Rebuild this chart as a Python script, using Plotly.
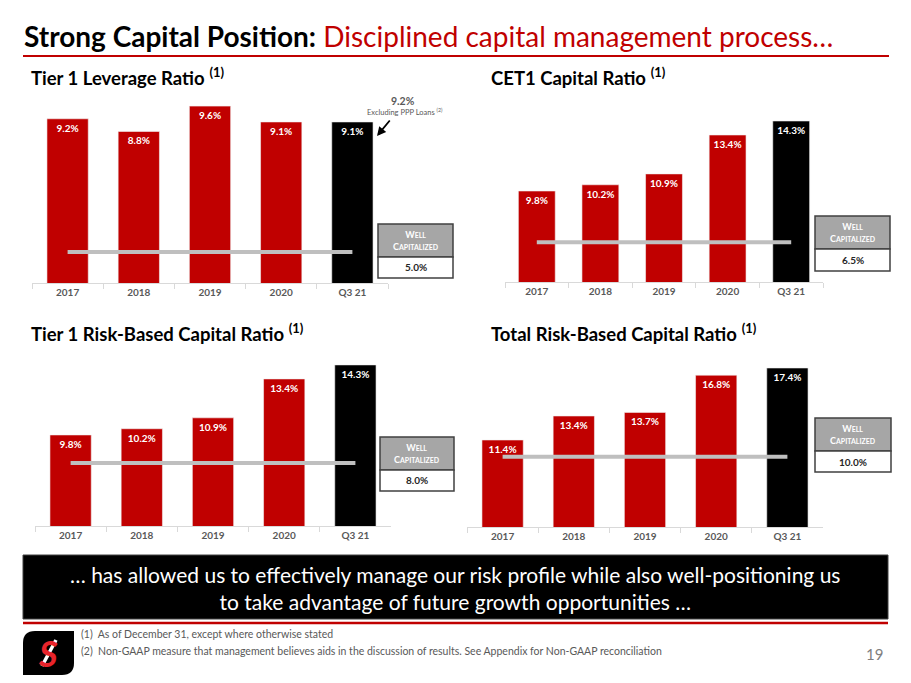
import plotly.graph_objects as go

# Data
periods = ['2017', '2018', '2019', '2020', 'Q3 21']

leverage = [9.2, 8.8, 9.6, 9.1, 9.1]
cet1 = [9.8, 10.2, 10.9, 13.4, 14.3]
tier1_rbc = [9.8, 10.2, 10.9, 13.4, 14.3]
total_rbc = [11.4, 13.4, 13.7, 16.8, 17.4]

well_capitalized = [5.0, 6.5, 8.0, 10.0]
leverage_ex_ppp = 9.2

panel_titles = [
    'Tier 1 Leverage Ratio',
    'CET1 Capital Ratio',
    'Tier 1 Risk-Based Capital Ratio',
    'Total Risk-Based Capital Ratio',
]

# page body has an 8px margin, so the figure is sized/offset to fit the window
OFF = 8
W, H = 911 - OFF, 683 - OFF
FONT = 'Lato'
RED = '#C00000'
GREY_TXT = '#595959'


def fx(x):
    return (x - OFF) / W


def fy(y):
    return 1 - (y - OFF) / H


def note(x, y, text, size, color, xanchor='center', yanchor='middle', **kw):
    return dict(x=fx(x), y=fy(y), xref='paper', yref='paper', text=text,
                showarrow=False, xanchor=xanchor, yanchor=yanchor,
                font=dict(family=FONT, size=size, color=color, **kw))


# Panel geometry in slide pixels:
# axis x-extent, plot top/bottom, y-range, box (x0, x1, top, mid, bottom), title pos
panels = [
    dict(vals=leverage, ax=(32, 388), py=(95, 283), yr=(4.02, 9.95),
         box=(378, 453, 224, 257, 278), title=(29, 76)),
    dict(vals=cet1, ax=(505, 823), py=(95, 282), yr=(3.95, 15.97),
         box=(815, 890, 216, 249, 271), title=(489, 76)),
    dict(vals=tier1_rbc, ax=(35, 391), py=(340, 526), yr=(3.95, 15.9),
         box=(380, 454, 437, 470, 491), title=(29, 332)),
    dict(vals=total_rbc, ax=(467, 823), py=(340, 527), yr=(4.15, 19.73),
         box=(815, 891, 418, 451, 472), title=(489, 332)),
]

fig = go.Figure()
shapes = []
annotations = []

for i, p in enumerate(panels):
    n = i + 1
    xa = 'x' if n == 1 else f'x{n}'
    ya = 'y' if n == 1 else f'y{n}'
    colors = [RED] * (len(periods) - 1) + ['#000000']

    fig.add_trace(go.Bar(
        x=periods, y=p['vals'], xaxis=xa, yaxis=ya,
        marker=dict(color=colors, line=dict(color='#F2F2F2', width=0.6)),
        text=[f'{v:.1f}%' for v in p['vals']],
        textposition='inside', insidetextanchor='end',
        textfont=dict(family=FONT, size=10, color='white', weight='bold'),
        hoverinfo='skip'
    ))

    wc = well_capitalized[i]
    fig.add_trace(go.Scatter(
        x=[periods[0], periods[-1]], y=[wc, wc], xaxis=xa, yaxis=ya,
        mode='lines', line=dict(color='#BFBFBF', width=4),
        hoverinfo='skip'
    ))

    fig.update_layout({
        ('xaxis' if n == 1 else f'xaxis{n}'): dict(
            domain=[fx(p['ax'][0]), fx(p['ax'][1])],
            anchor=ya, showline=True, linecolor='#D9D9D9', linewidth=1,
            ticks='outside', tickson='boundaries', ticklen=5,
            tickcolor='#D9D9D9', showgrid=False, fixedrange=True,
            tickfont=dict(family=FONT, size=10, color=GREY_TXT, weight='bold'),
        ),
        ('yaxis' if n == 1 else f'yaxis{n}'): dict(
            domain=[fy(p['py'][1]), fy(p['py'][0])],
            anchor=xa, range=list(p['yr']), visible=False, fixedrange=True,
        ),
    })

    # Well capitalized box
    bx0, bx1, bt, bm, bb = p['box']
    shapes.append(dict(type='rect', xref='paper', yref='paper',
                       x0=fx(bx0), x1=fx(bx1), y0=fy(bm), y1=fy(bt),
                       fillcolor='#A6A6A6', line=dict(color='#404040', width=1.5)))
    shapes.append(dict(type='rect', xref='paper', yref='paper',
                       x0=fx(bx0), x1=fx(bx1), y0=fy(bb), y1=fy(bm),
                       fillcolor='white', line=dict(color='#404040', width=1.5)))
    annotations.append(note(
        (bx0 + bx1) / 2, (bt + bm) / 2,
        "W<span style='font-size:7px'>ELL</span><br>"
        "C<span style='font-size:7px'>APITALIZED</span>",
        9, 'white', weight='bold'))
    annotations.append(note((bx0 + bx1) / 2, (bm + bb) / 2, f'{wc:.1f}%',
                            10, '#262626', weight='bold'))

    # Panel title
    tx, ty = p['title']
    annotations.append(note(tx, ty, f'<b>{panel_titles[i]}</b> <b><sup>(1)</sup></b>',
                            18.5, '#000000', xanchor='left'))

# Excluding PPP note on leverage panel
annotations.append(note(403, 101, f'{leverage_ex_ppp:.1f}%', 10.5, GREY_TXT, weight='bold'))
annotations.append(note(405, 112, 'Excluding PPP Loans <sup>(2)</sup>', 7.5, GREY_TXT))
annotations.append(dict(
    x=fx(377), y=fy(136), xref='paper', yref='paper', text='',
    showarrow=True, arrowhead=2, arrowsize=1, arrowwidth=1.8,
    arrowcolor='#000000', ax=14, ay=-17))

# Slide title
annotations.append(note(
    22, 36,
    "<b>Strong Capital Position:</b> "
    f"<span style='color:{RED}'>Disciplined capital management process…</span>",
    28, '#000000', xanchor='left'))
shapes.append(dict(type='line', xref='paper', yref='paper',
                   x0=fx(23), x1=fx(889), y0=fy(56), y1=fy(56),
                   line=dict(color=RED, width=2)))

# Bottom banner
shapes.append(dict(type='rect', xref='paper', yref='paper',
                   x0=fx(23), x1=fx(888), y0=fy(619), y1=fy(555),
                   fillcolor='#000000', line=dict(color='#404040', width=1)))
shapes.append(dict(type='line', xref='paper', yref='paper',
                   x0=fx(23), x1=fx(888), y0=fy(623), y1=fy(623),
                   line=dict(color=RED, width=2.5)))
annotations.append(note(
    455, 588,
    '… has allowed us to effectively manage our risk profile while also well-positioning us'
    '<br>to take advantage of future growth opportunities …',
    21, 'white'))

# Footnotes
annotations.append(note(79, 634, '(1)  As of December 31, except where otherwise stated',
                        10.5, GREY_TXT, xanchor='left'))
annotations.append(note(
    79, 651,
    '(2)  Non-GAAP measure that management believes aids in the discussion of results. '
    'See Appendix for Non-GAAP reconciliation',
    10.5, GREY_TXT, xanchor='left'))
annotations.append(note(874, 654, '19', 15, '#7F7F7F'))

# Logo: black rounded tile, red S, white slash
lx0, lx1, ly0, ly1 = 23, 74, 631, 675
shapes.append(dict(
    type='path', xref='paper', yref='paper', fillcolor='#000000', line=dict(width=0),
    path=(f'M {fx(lx0 + 12)} {fy(ly0)} L {fx(lx1)} {fy(ly0)} '
          f'L {fx(lx1)} {fy(ly1 - 12)} Q {fx(lx1)} {fy(ly1)} {fx(lx1 - 12)} {fy(ly1)} '
          f'L {fx(lx0)} {fy(ly1)} L {fx(lx0)} {fy(ly0 + 12)} '
          f'Q {fx(lx0)} {fy(ly0)} {fx(lx0 + 12)} {fy(ly0)} Z')))
annotations.append(note(48, 653, '<b><i>S</i></b>', 36, '#E8242B'))
shapes.append(dict(type='line', xref='paper', yref='paper',
                   x0=fx(42), x1=fx(56), y0=fy(666), y1=fy(640),
                   line=dict(color='white', width=3.5)))

fig.update_layout(
    width=W, height=H,
    margin=dict(l=0, r=0, t=0, b=0),
    paper_bgcolor='white', plot_bgcolor='rgba(0,0,0,0)',
    showlegend=False, bargap=0.42,
    shapes=shapes, annotations=annotations,
    font=dict(family=FONT),
)

fig.write_html('out.html')
